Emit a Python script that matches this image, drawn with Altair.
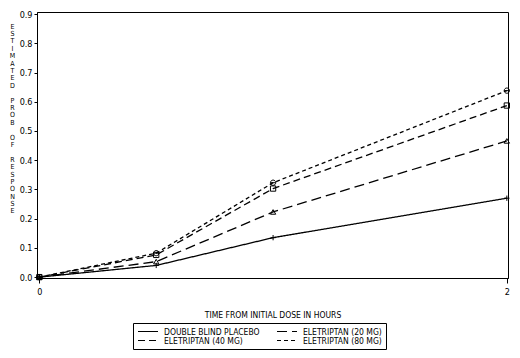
import altair as alt
import pandas as pd

hours = [0, 0.5, 1, 2]
series_names = ["DOUBLE BLIND PLACEBO", "ELETRIPTAN (20 MG)", "ELETRIPTAN (40 MG)", "ELETRIPTAN (80 MG)"]
marker_codes = ["placebo", "e20", "e40", "e80"]
placebo = [0.0, 0.040, 0.135, 0.270]
e20 = [0.0, 0.053, 0.223, 0.466]
e40 = [0.0, 0.076, 0.303, 0.587]
e80 = [0.0, 0.082, 0.323, 0.638]
x_ticks = [0, 1, 2]
y_ticks = [0, 0.1, 0.2, 0.3, 0.4, 0.5, 0.6, 0.7, 0.8, 0.9]
y_title = "ESTIMATED PROB OF RESPONSE"

rows = []
for name, code, vals in zip(series_names, marker_codes, [placebo, e20, e40, e80]):
    for h, v in zip(hours, vals):
        rows.append({"hours": h, "prob": v, "series": name, "marker": code})
df = pd.DataFrame(rows)

FONT = "Liberation Sans Narrow, DejaVu Sans Condensed, Arial Narrow, sans-serif"

x = alt.X("hours:Q",
          scale=alt.Scale(domain=[-0.01, 2.005], nice=False, zero=False),
          axis=alt.Axis(values=x_ticks, format="d", title="TIME FROM INITIAL DOSE IN HOURS",
                        tickSize=5, labelPadding=4, titlePadding=14, labelFontSize=9,
                        titleFontSize=8.5, titleFontWeight="normal", labelFont=FONT, titleFont=FONT,
                        domainColor="black", tickColor="black", labelColor="black", titleColor="black"))
y = alt.Y("prob:Q",
          scale=alt.Scale(domain=[-0.003, 0.907], nice=False, zero=False),
          axis=alt.Axis(values=y_ticks, format=".1f",
                        title=[c if c != " " else "\u2800" for c in y_title],
                        titleAngle=0, titleAlign="center", titleBaseline="top",
                        titleX=-25, titleY=10, titleLineHeight=7.4, titleFontSize=7,
                        titleFontWeight="normal", titleFont=FONT, labelFont=FONT,
                        tickSize=3, labelPadding=2, labelFontSize=9,
                        domainColor="black", tickColor="black", labelColor="black", titleColor="black"))

lines = alt.Chart(df).mark_line(strokeWidth=1.3, color="black").encode(
    x=x, y=y,
    strokeDash=alt.StrokeDash("series:N", sort=series_names,
                              scale=alt.Scale(domain=series_names,
                                              range=[[1, 0], [10, 5], [7, 4], [4, 3]]),
                              legend=alt.Legend(title=None, orient="none", legendX=96, legendY=311,
                                                columns=2, direction="horizontal",
                                                strokeColor="black", padding=4,
                                                symbolType="stroke", symbolSize=400,
                                                clipHeight=9,
                                                symbolStrokeColor="black", symbolStrokeWidth=1.2,
                                                labelFont=FONT, labelFontSize=8.5, labelColor="black",
                                                labelLimit=200, columnPadding=16, rowPadding=0,
                                                labelOffset=5)),
)

points = alt.Chart(df).mark_point(filled=False, size=28, strokeWidth=1, opacity=1, color="black").encode(
    x=x, y=y,
    shape=alt.Shape("marker:N",
                    scale=alt.Scale(domain=marker_codes,
                                    range=["M-1,0L1,0M0,-1L0,1", "triangle-up", "square",
                                           "M-1,0A1,1,0,1,1,1,0A1,1,0,1,1,-1,0M-1,0L1,0"]),
                    legend=None),
)

chart = alt.layer(lines, points).properties(
    width=471, height=266,
    autosize=alt.AutoSizeParams(type="none"),
    padding={"left": 29, "top": 4, "right": 4, "bottom": 72},
    background="white",
).configure_view(stroke="black", strokeWidth=1).configure_axis(grid=False)

chart.save("out.html", embed_options={"renderer": "svg", "actions": False})
